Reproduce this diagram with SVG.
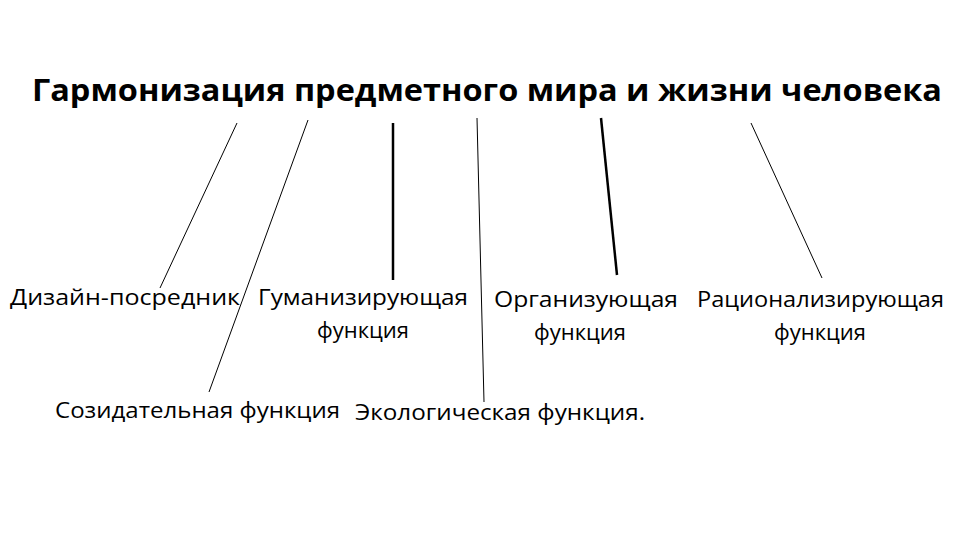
<svg xmlns="http://www.w3.org/2000/svg" width="960" height="540" viewBox="0 0 960 540">
<style>
.t{font-family:"Open Sans","Noto Sans",sans-serif;font-size:22px;fill:#000}
.h{font-family:"Open Sans","Noto Sans",sans-serif;font-size:30px;font-weight:bold;fill:#000}
.l{stroke:#000;stroke-width:1}
.k{stroke:#000;stroke-width:2.5}
</style>
<rect width="960" height="540" fill="#fff"/>
<g id="title"><text class="h" x="32" y="101" textLength="910" lengthAdjust="spacingAndGlyphs">Гармонизация предметного мира и жизни человека</text></g>
<g id="connectors">
<line class="l" x1="237" y1="123" x2="160" y2="288"/>
<line class="l" x1="308" y1="120" x2="209" y2="392"/>
<line class="k" x1="393" y1="123" x2="393" y2="280"/>
<line class="l" x1="477" y1="118" x2="484" y2="402"/>
<line class="k" x1="601" y1="118" x2="617" y2="275"/>
<line class="l" x1="751" y1="123" x2="822" y2="278"/>
</g>
<g id="n1"><text class="t" x="10" y="305" textLength="230" lengthAdjust="spacingAndGlyphs">Дизайн-посредник</text></g>
<g id="n2"><text class="t" x="258" y="305" textLength="210" lengthAdjust="spacingAndGlyphs">Гуманизирующая</text><text class="t" x="363" y="338" text-anchor="middle">функция</text></g>
<g id="n3"><text class="t" x="494" y="307" textLength="184" lengthAdjust="spacingAndGlyphs">Организующая</text><text class="t" x="580" y="340" text-anchor="middle">функция</text></g>
<g id="n4"><text class="t" x="697" y="307" textLength="247" lengthAdjust="spacingAndGlyphs">Рационализирующая</text><text class="t" x="820" y="340" text-anchor="middle">функция</text></g>
<g id="n5"><text class="t" x="55" y="418" textLength="285" lengthAdjust="spacingAndGlyphs">Созидательная функция</text></g>
<g id="n6"><text class="t" x="355" y="420" textLength="290" lengthAdjust="spacingAndGlyphs">Экологическая функция.</text></g>
</svg>
